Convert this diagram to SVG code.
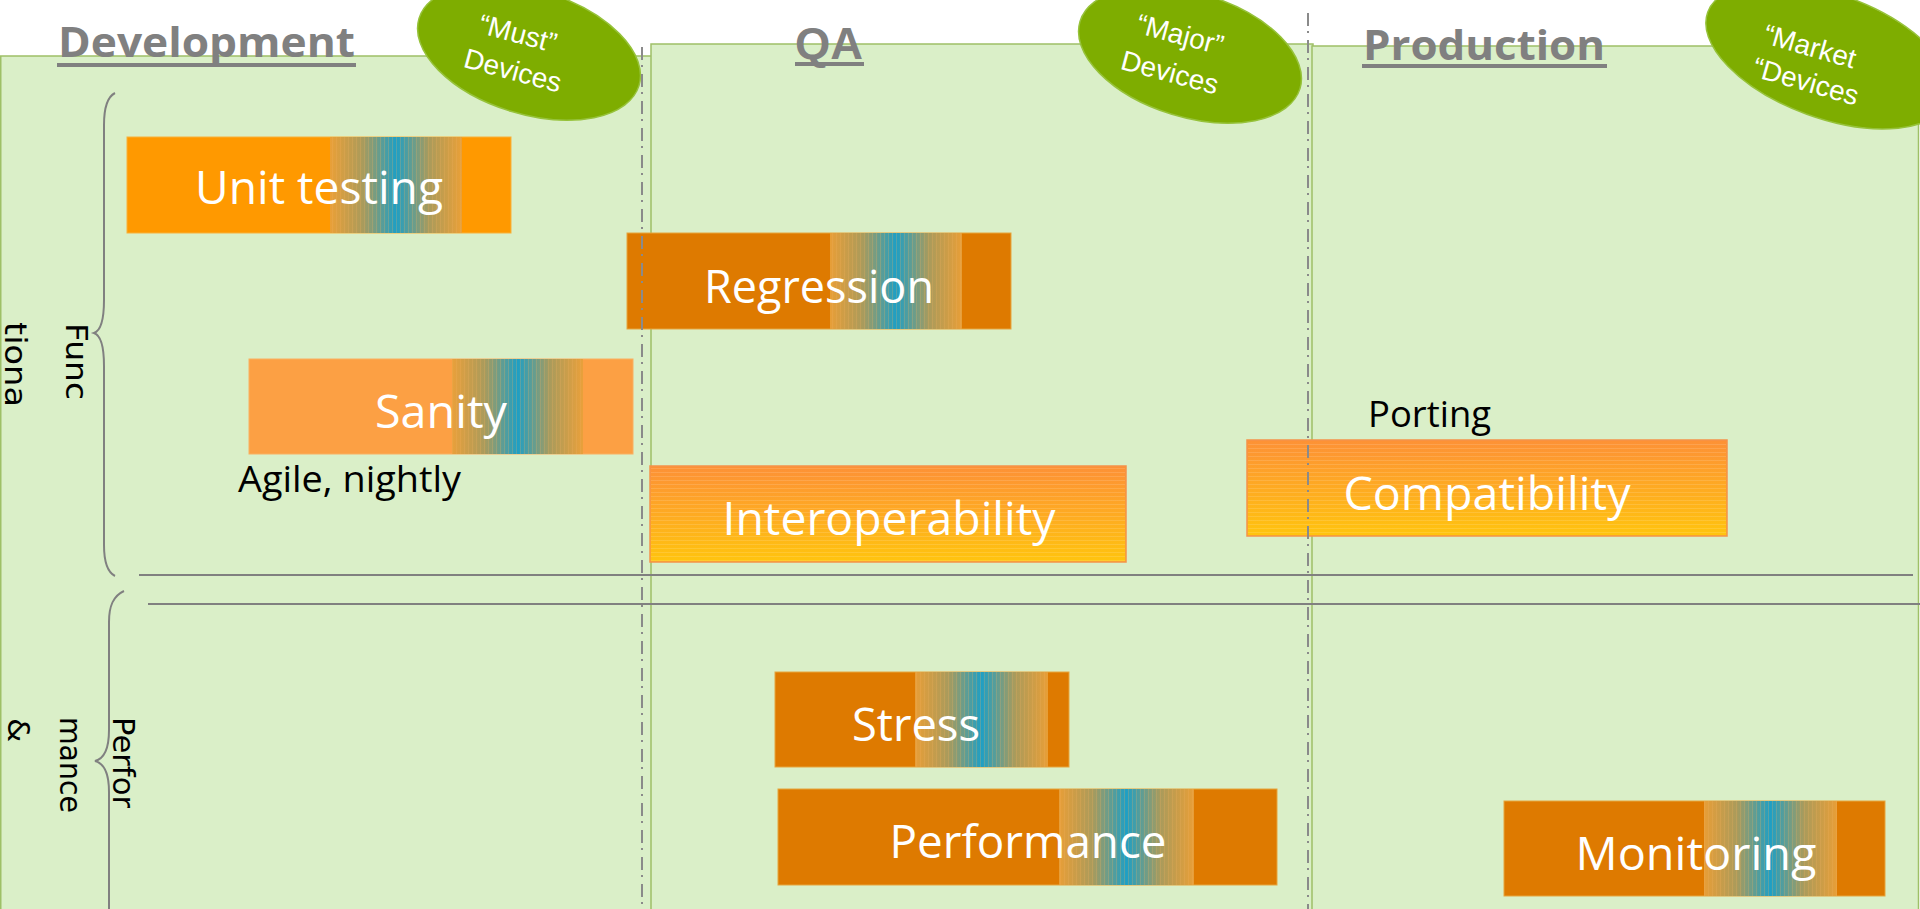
<svg xmlns="http://www.w3.org/2000/svg" width="1920" height="909" viewBox="0 0 1920 909">
<defs>
<style>
.panel{fill:#DAEFC8;stroke:#9EC067;stroke-width:1.5}
.ell{fill:#7EAD00;stroke:#96C23A;stroke-width:1.5}
.etxt{font-family:"Liberation Sans",Arial,sans-serif;font-size:28px;fill:#ffffff;text-anchor:middle}
.head{font-family:"Open Sans","Liberation Sans",sans-serif;font-weight:bold;font-size:42px;fill:#808080}
.uline{stroke:#808080;stroke-width:4}
.lbl{font-family:"Open Sans","Liberation Sans",sans-serif;font-size:46px;fill:#ffffff;text-anchor:middle}
.note{font-family:"Open Sans","Liberation Sans",sans-serif;font-size:37px;fill:#000000}
.vt{font-family:"DejaVu Sans","Liberation Sans",sans-serif;font-size:31px;fill:#000000}
.sep{stroke:#808080;stroke-width:2;fill:none}
.dash{stroke:#8A8A8A;stroke-width:2;stroke-dasharray:13,5,2,7;fill:none}
.dark{fill:#DE7A00;stroke:#E6A53C;stroke-width:1}
.bright{fill:#FF9900;stroke:#F7B13A;stroke-width:1}
.light{fill:#FCA044;stroke:#F9B060;stroke-width:1}
.warm{fill:url(#warmGrad);stroke:#F5924A;stroke-width:1.5}
.band{fill:url(#bandGrad)}
.bandtex{fill:url(#vstripes)}
.hstr{fill:url(#hstripes)}
</style>
<linearGradient id="bandGrad" x1="0" y1="0" x2="1" y2="0">
<stop offset="0" stop-color="#E8A03A" stop-opacity="0.95"/>
<stop offset="0.25" stop-color="#A99B5C"/>
<stop offset="0.5" stop-color="#1F9FC4"/>
<stop offset="0.75" stop-color="#A99B5C"/>
<stop offset="1" stop-color="#E8A03A" stop-opacity="0.95"/>
</linearGradient>
<linearGradient id="warmGrad" x1="0" y1="0" x2="0" y2="1">
<stop offset="0" stop-color="#FD9136"/>
<stop offset="1" stop-color="#FFC40E"/>
</linearGradient>
<pattern id="vstripes" patternUnits="userSpaceOnUse" width="4" height="10">
<rect x="0" y="0" width="1" height="10" fill="#F0B060" fill-opacity="0.25"/>
</pattern>
<pattern id="hstripes" patternUnits="userSpaceOnUse" width="10" height="4">
<rect x="0" y="0" width="10" height="1" fill="#ffffff" fill-opacity="0.13"/>
</pattern>
</defs>

<g id="panel-development">
<rect class="panel" x="0.75" y="56" width="652" height="870"/>
</g>
<g id="panel-qa">
<rect class="panel" x="651" y="44" width="662" height="880"/>
</g>
<g id="panel-production">
<rect class="panel" x="1312" y="46" width="606.5" height="880"/>
</g>

<g id="header-development">
<text class="head" x="58" y="57" textLength="297" lengthAdjust="spacingAndGlyphs">Development</text>
<line class="uline" x1="57" y1="65" x2="356" y2="65"/>
</g>
<g id="header-qa">
<text x="795" y="59" font-family="Liberation Sans, Arial, sans-serif" font-weight="bold" font-size="45" fill="#808080" textLength="68" lengthAdjust="spacingAndGlyphs">QA</text>
<line class="uline" x1="795" y1="64" x2="864" y2="64"/>
</g>
<g id="header-production">
<text class="head" x="1363" y="60" textLength="242" lengthAdjust="spacingAndGlyphs">Production</text>
<line class="uline" x1="1362" y1="66" x2="1607" y2="66"/>
</g>

<g id="devices-must">
<ellipse class="ell" cx="529" cy="52" rx="115" ry="62" transform="rotate(17 529 52)"/>
<text class="etxt" x="518" y="43" transform="rotate(15 518 33)">“Must”</text>
<text class="etxt" x="513" y="80" transform="rotate(15 513 70)">Devices</text>
</g>
<g id="devices-major">
<ellipse class="ell" cx="1190" cy="55" rx="115" ry="62" transform="rotate(17 1190 55)"/>
<text class="etxt" x="1180" y="44" transform="rotate(15 1180 35)">“Major”</text>
<text class="etxt" x="1170" y="82" transform="rotate(15 1170 72)">Devices</text>
</g>
<g id="devices-market">
<ellipse class="ell" cx="1828" cy="56" rx="128" ry="62" transform="rotate(20 1828 56)"/>
<text class="etxt" x="1810" y="56" transform="rotate(16 1810 46)">“Market</text>
<text class="etxt" x="1806" y="91" transform="rotate(16 1806 81)">“Devices</text>
</g>

<g id="connectors">
<line class="sep" x1="139" y1="575" x2="1913" y2="575"/>
<line class="sep" x1="148" y1="604" x2="1920" y2="604"/>
<path class="sep" d="M115,93 C107,97 104,108 104,125 L104,300 C104,322 100,331 94,333 C100,335 104,344 104,366 L104,545 C104,562 107,572 115,576"/>
<path class="sep" d="M124,591 C113,596 109,606 109,622 L109,730 C109,752 103,759 95,761 C103,763 109,770 109,792 L109,915"/>
</g>

<g id="axis-functional">
<text class="vt" transform="translate(66,323) rotate(90)" textLength="77" lengthAdjust="spacingAndGlyphs">Func</text>
<text class="vt" transform="translate(5,322) rotate(90)" textLength="85" lengthAdjust="spacingAndGlyphs">tiona</text>
</g>
<g id="axis-performance">
<text class="vt" transform="translate(113,717) rotate(90)" textLength="91" lengthAdjust="spacingAndGlyphs">Perfor</text>
<text class="vt" transform="translate(60,717) rotate(90)" textLength="96" lengthAdjust="spacingAndGlyphs">mance</text>
<text class="vt" transform="translate(8,718) rotate(90)">&amp;</text>
</g>

<g id="node-unit-testing">
<rect class="bright" x="127" y="137" width="384" height="96"/>
<rect class="band" x="330" y="137" width="132" height="96"/>
<rect class="bandtex" x="330" y="137" width="132" height="96"/>
<text class="lbl" x="319" y="204" textLength="248" lengthAdjust="spacingAndGlyphs">Unit testing</text>
</g>
<g id="node-regression">
<rect class="dark" x="627" y="233" width="384" height="96"/>
<rect class="band" x="830" y="233" width="132" height="96"/>
<rect class="bandtex" x="830" y="233" width="132" height="96"/>
<text class="lbl" x="819" y="303" textLength="230" lengthAdjust="spacingAndGlyphs">Regression</text>
</g>
<g id="node-sanity">
<rect class="light" x="249" y="359" width="384" height="95"/>
<rect class="band" x="452" y="359" width="131" height="95"/>
<rect class="bandtex" x="452" y="359" width="131" height="95"/>
<text class="lbl" x="441" y="428" textLength="132" lengthAdjust="spacingAndGlyphs">Sanity</text>
</g>
<g id="note-agile">
<text class="note" x="238" y="492" textLength="223" lengthAdjust="spacingAndGlyphs">Agile, nightly</text>
</g>
<g id="node-interoperability">
<rect class="warm" x="650" y="466" width="476" height="96"/>
<rect class="hstr" x="651" y="467" width="474" height="94"/>
<text class="lbl" x="889" y="535" textLength="333" lengthAdjust="spacingAndGlyphs">Interoperability</text>
</g>
<g id="note-porting">
<text class="note" x="1368" y="427" textLength="123" lengthAdjust="spacingAndGlyphs">Porting</text>
</g>
<g id="node-compatibility">
<rect class="warm" x="1247" y="440" width="480" height="96"/>
<rect class="hstr" x="1248" y="441" width="478" height="94"/>
<text class="lbl" x="1487" y="510" textLength="287" lengthAdjust="spacingAndGlyphs">Compatibility</text>
</g>
<g id="node-stress">
<rect class="dark" x="775" y="672" width="294" height="95"/>
<rect class="band" x="915" y="672" width="133" height="95"/>
<rect class="bandtex" x="915" y="672" width="133" height="95"/>
<text class="lbl" x="916" y="741" textLength="128" lengthAdjust="spacingAndGlyphs">Stress</text>
</g>
<g id="node-performance">
<rect class="dark" x="778" y="789" width="499" height="96"/>
<rect class="band" x="1059" y="789" width="135" height="96"/>
<rect class="bandtex" x="1059" y="789" width="135" height="96"/>
<text class="lbl" x="1028" y="858" textLength="277" lengthAdjust="spacingAndGlyphs">Performance</text>
</g>
<g id="node-monitoring">
<rect class="dark" x="1504" y="801" width="381" height="95"/>
<rect class="band" x="1704" y="801" width="133" height="95"/>
<rect class="bandtex" x="1704" y="801" width="133" height="95"/>
<text class="lbl" x="1696" y="870" textLength="241" lengthAdjust="spacingAndGlyphs">Monitoring</text>
</g>

<g id="dividers">
<line class="dash" x1="642" y1="47" x2="642" y2="909"/>
<line class="dash" x1="1308" y1="13" x2="1308" y2="909"/>
</g>
</svg>
